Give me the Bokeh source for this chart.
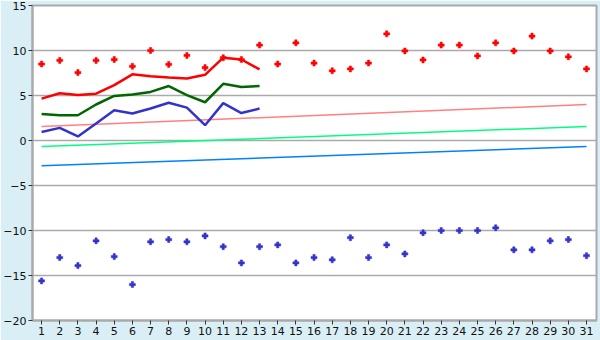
from bokeh.plotting import figure
from bokeh.models import Range1d, FixedTicker
from bokeh.embed import file_html
from bokeh.resources import INLINE

days = list(range(1, 32))
# daily extreme maxima (red dots)
max_pts = [8.5, 8.9, 7.55, 8.9, 9.0, 8.25, 10.0, 8.45, 9.45, 8.1, 9.2, 9.0, 10.6,
           8.5, 10.85, 8.6, 7.75, 7.95, 8.6, 11.85, 9.95, 8.95, 10.6, 10.6, 9.4,
           10.85, 9.95, 11.6, 9.95, 9.3, 7.95]
# daily extreme minima (blue dots)
min_pts = [-15.6, -13.0, -13.9, -11.15, -12.9, -16.0, -11.25, -11.0, -11.25, -10.6,
           -11.8, -13.6, -11.8, -11.6, -13.6, -13.0, -13.25, -10.8, -13.0, -11.6,
           -12.6, -10.25, -10.0, -10.0, -10.0, -9.7, -12.15, -12.15, -11.15, -11.0, -12.8]
# current month lines (days 1-13)
line_days = list(range(1, 14))
max_line = [4.65, 5.25, 5.05, 5.2, 6.15, 7.35, 7.15, 7.0, 6.9, 7.3, 9.2, 9.0, 7.9]
mean_line = [2.95, 2.8, 2.8, 4.0, 4.95, 5.1, 5.4, 6.05, 5.05, 4.25, 6.3, 5.95, 6.05]
min_line = [0.95, 1.4, 0.45, 1.9, 3.35, 3.0, 3.55, 4.2, 3.65, 1.7, 4.15, 3.05, 3.55]
# normal (trend) lines, start and end values
trend_days = [1, 31]
trend_max = [1.55, 4.0]
trend_mean = [-0.67, 1.55]
trend_min = [-2.8, -0.67]

y_ticks = [-20, -15, -10, -5, 0, 5, 10, 15]

p = figure(width=600, height=340, output_backend="svg", toolbar_location=None,
           x_range=Range1d(0.5, 31.55), y_range=Range1d(-20, 15),
           min_border_left=26, min_border_right=4, min_border_top=5, min_border_bottom=20)
p.background_fill_color = "white"
p.border_fill_color = "#d9eff5"
p.outline_line_color = "#aaaaaa"
p.outline_line_width = 2

for ax in (p.xaxis[0], p.yaxis[0]):
    ax.axis_line_color = "#aaaaaa"
    ax.axis_line_width = 2
    ax.major_tick_line_color = "#333333"
    ax.major_tick_in = 0
    ax.major_tick_out = 4
    ax.minor_tick_line_color = None
    ax.major_label_text_font = "DejaVu Sans"
    ax.major_label_text_font_size = "11px"
    ax.major_label_text_color = "#111111"
    ax.major_label_standoff = 2

p.xaxis.ticker = FixedTicker(ticks=days)
p.yaxis.ticker = FixedTicker(ticks=y_ticks)
p.xgrid.grid_line_color = None
p.ygrid.grid_line_color = "#aaaaaa"
p.ygrid.grid_line_width = 1.5

p.line(trend_days, trend_max, line_color="#ff8080", line_width=1.5)
p.line(trend_days, trend_mean, line_color="#00ff80", line_width=1.5)
p.line(trend_days, trend_min, line_color="#0080ff", line_width=1.5)

p.line(line_days, max_line, line_color="#ff0000", line_width=2.5)
p.line(line_days, mean_line, line_color="#006600", line_width=2.5)
p.line(line_days, min_line, line_color="#3333cc", line_width=2.5)

p.scatter(days, max_pts, marker="plus", size=6, fill_color="#ff0000", line_color="#ff0000", line_width=0.5)
p.scatter(days, min_pts, marker="plus", size=6, fill_color="#3333cc", line_color="#3333cc", line_width=0.5)

open("out.html", "w").write(file_html(p, INLINE))
